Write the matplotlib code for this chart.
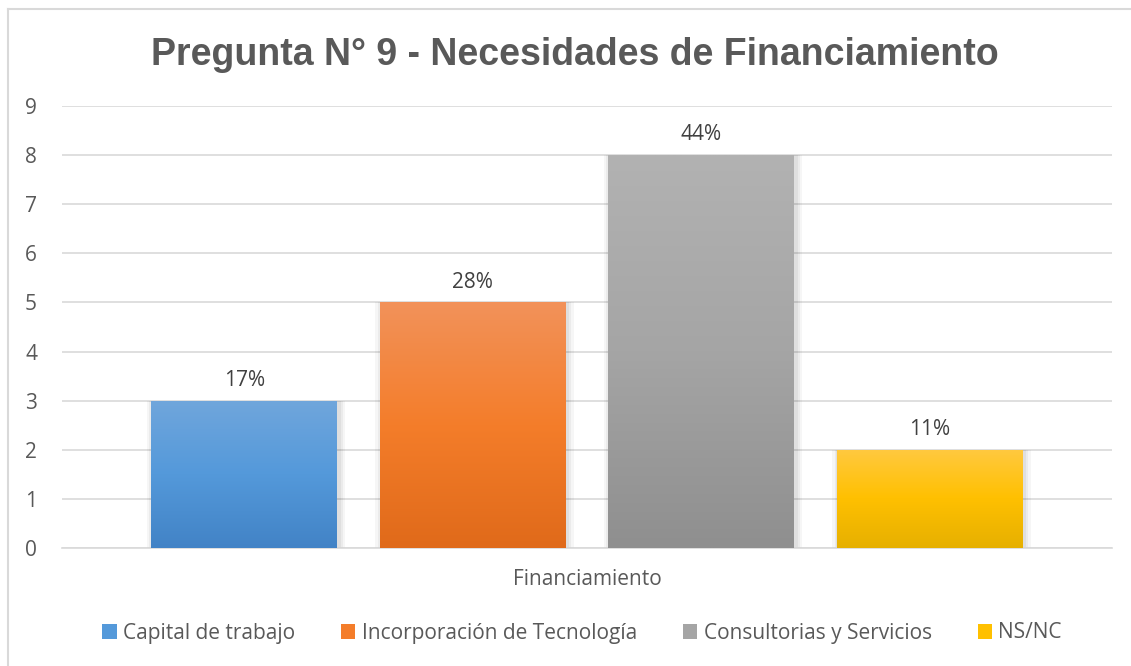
import matplotlib
matplotlib.use("Agg")
import matplotlib.pyplot as plt
import numpy as np
from matplotlib.colors import LinearSegmentedColormap
from matplotlib.patches import Rectangle, Patch
from matplotlib.lines import Line2D

# ---- data ----
category = "Financiamiento"
series = ["Capital de trabajo", "Incorporación de Tecnología",
          "Consultorias y Servicios", "NS/NC"]
values = [3, 5, 8, 2]
yticks = list(range(0, 10))
title = "Pregunta N° 9 - Necesidades de Financiamiento"

# gradient colors (top, middle, bottom)
grads = [
    ("#70a6dc", "#5499da", "#4283c6"),
    ("#f2925a", "#f47d2a", "#e06a1a"),
    ("#b2b2b2", "#a5a5a5", "#8f8f8f"),
    ("#ffc940", "#ffc000", "#e6b000"),
]
solid = ["#5b9bd5", "#ed7d31", "#a5a5a5", "#ffc000"]

TXT = "#595959"
GRID = "#d9d9d9"
body_font = ["Open Sans", "DejaVu Sans"]
FS = 15

fig = plt.figure(figsize=(11.31, 6.66), dpi=100)
W, H = 1131, 666
ax = fig.add_axes([62 / W, 1 - 548 / H, (1112 - 62) / W, (548 - 106) / H])

n = len(series)
spacing = 0.2176
width = 0.177
total = sum(values)

ax.set_xlim(-0.5, 0.5)
ax.set_ylim(0, 9)

for i, (s, v) in enumerate(zip(series, values)):
    x = (i - (n - 1) / 2) * spacing
    # soft shadow
    for k, a in [(0.010, 0.035), (0.006, 0.045), (0.003, 0.05)]:
        sh = Rectangle((x - width / 2 - k * 0.6 + 0.0015, 0), width + 2 * k * 0.6, v + k * 0.3,
                       facecolor="black", alpha=a, edgecolor="none", zorder=2)
        ax.add_patch(sh)
    bars = ax.bar(x, v, width=width, color=solid[i], zorder=3, edgecolor="none")
    patch = bars[0]
    cmap = LinearSegmentedColormap.from_list("g%d" % i, [grads[i][2], grads[i][1], grads[i][0]])
    grad = np.linspace(0, 1, 256).reshape(-1, 1)
    im = ax.imshow(grad, extent=[x - width / 2, x + width / 2, 0, v], origin="lower",
                   aspect="auto", cmap=cmap, zorder=4)
    im.set_clip_path(patch)
    pct = round(100 * v / total)
    ax.annotate(f"{pct}%", (x, v), xytext=(0, 7), textcoords="offset points",
                ha="center", va="bottom", fontsize=FS, color="#404040",
                family=body_font, zorder=5)

ax.set_xlim(-0.5, 0.5)
ax.set_aspect("auto")
ax.set_yticks(yticks)
ax.set_yticklabels([str(t) for t in yticks], family=body_font, fontsize=FS, color=TXT)
ax.set_xticks([0])
ax.set_xticklabels([category], family=body_font, fontsize=FS, color=TXT)
ax.tick_params(axis="both", length=0)
ax.tick_params(axis="y", pad=18)
ax.tick_params(axis="x", pad=15)
ax.grid(axis="y", color=GRID, linewidth=1.2, zorder=0)
ax.set_axisbelow(True)
for sp in ["top", "right", "left"]:
    ax.spines[sp].set_visible(False)
ax.spines["bottom"].set_color(GRID)
ax.spines["bottom"].set_linewidth(1.2)

fig.text(575 / W, 1 - 55 / H, title, ha="center", va="center",
         fontsize=27, fontweight="bold", color=TXT, family=["Liberation Sans", "DejaVu Sans"])

handles = [Patch(facecolor=grads[i][1], edgecolor="none") for i in range(n)]
leg = fig.legend(handles, series, loc="center", bbox_to_anchor=(582 / W, 1 - 633 / H),
                 ncol=n, frameon=False, prop={"family": body_font, "size": FS},
                 handlelength=0.7, handleheight=0.7, handletextpad=0.3,
                 columnspacing=2.2)
for t in leg.get_texts():
    t.set_color(TXT)

# chart border (top and left visible)
fig.add_artist(Line2D([8 / W, 1], [1 - 9 / H, 1 - 9 / H], color=GRID, linewidth=1.5,
                      transform=fig.transFigure))
fig.add_artist(Line2D([8 / W, 8 / W], [0, 1 - 9 / H], color=GRID, linewidth=1.5,
                      transform=fig.transFigure))

fig.savefig("out.png", dpi=100, facecolor="white")
